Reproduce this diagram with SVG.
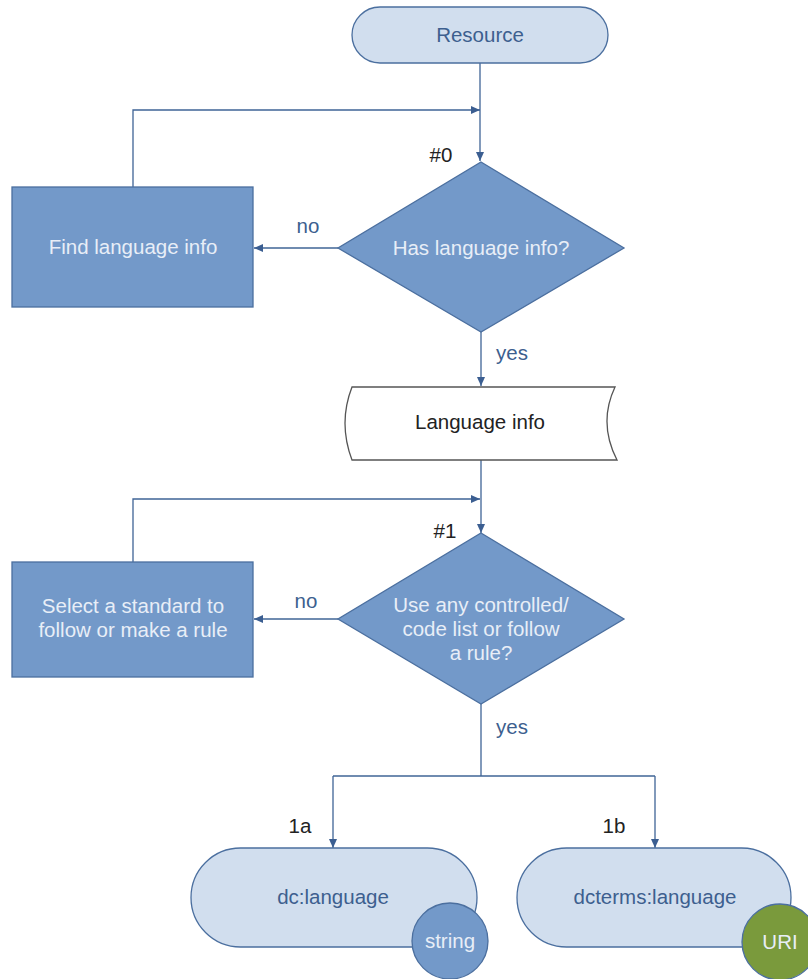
<svg xmlns="http://www.w3.org/2000/svg" width="808" height="979" viewBox="0 0 808 979">
  <defs>
    <marker id="arr" markerUnits="userSpaceOnUse" markerWidth="10" markerHeight="10" refX="9" refY="4" orient="auto">
      <path d="M0,0 L9,4 L0,8 Z" fill="#3b5e91"/>
    </marker>
    <style>
      .conn { fill: none; stroke: #3f6496; stroke-width: 1.3; }
      .pill { fill: #d1deee; stroke: #4b6f9f; stroke-width: 1.3; }
      .proc { fill: #7399c9; stroke: #4b6f9f; stroke-width: 1.3; }
      .data { fill: #ffffff; stroke: #555555; stroke-width: 1.3; }
      .green { fill: #7a9a3c; stroke: #4b6f9f; stroke-width: 1.3; }
      text { font-family: "Liberation Sans", Arial, sans-serif; font-size: 20.5px; text-anchor: middle; }
      .dark { fill: #3d5f8f; }
      .light { fill: #e8eef7; }
      .black { fill: #222222; }
    </style>
  </defs>

  <g id="connectors">
    <path class="conn" d="M480 63 V161" marker-end="url(#arr)"/>
    <path class="conn" d="M133 187 V110 H480" marker-end="url(#arr)"/>
    <path class="conn" d="M338 248 H254" marker-end="url(#arr)"/>
    <path class="conn" d="M481 332 V386" marker-end="url(#arr)"/>
    <path class="conn" d="M481 460 V533" marker-end="url(#arr)"/>
    <path class="conn" d="M133 562 V499 H480" marker-end="url(#arr)"/>
    <path class="conn" d="M338 619 H254" marker-end="url(#arr)"/>
    <path class="conn" d="M481 704 V776"/>
    <path class="conn" d="M333 776 H655"/>
    <path class="conn" d="M333 776 V848" marker-end="url(#arr)"/>
    <path class="conn" d="M655 776 V848" marker-end="url(#arr)"/>
    <text class="dark" x="308" y="233">no</text>
    <text class="dark" x="512" y="360">yes</text>
    <text class="dark" x="306" y="608">no</text>
    <text class="dark" x="512" y="734">yes</text>
  </g>

  <g id="resource">
    <rect class="pill" x="352" y="7" width="256" height="56" rx="28"/>
    <text class="dark" x="480" y="42">Resource</text>
  </g>

  <g id="decision0">
    <polygon class="proc" points="481,162 624,248 481,332 338,248"/>
    <text class="light" x="481" y="255">Has language info?</text>
    <text class="black" x="441" y="162">#0</text>
  </g>

  <g id="find-language-info">
    <rect class="proc" x="12" y="187" width="241" height="120"/>
    <text class="light" x="133" y="254">Find language info</text>
  </g>

  <g id="language-info">
    <path class="data" d="M352 387 H615 Q598 423 617 460 H352 Q338 423 352 387 Z"/>
    <text class="black" x="480" y="429">Language info</text>
  </g>

  <g id="decision1">
    <polygon class="proc" points="481,533 624,619 481,704 338,619"/>
    <text class="light" x="481" y="612">Use any controlled/</text>
    <text class="light" x="481" y="636">code list or follow</text>
    <text class="light" x="481" y="660">a rule?</text>
    <text class="black" x="445" y="538">#1</text>
  </g>

  <g id="select-standard">
    <rect class="proc" x="12" y="562" width="241" height="115"/>
    <text class="light" x="133" y="613">Select a standard to</text>
    <text class="light" x="133" y="637">follow or make a rule</text>
  </g>

  <g id="dc-language">
    <text class="black" x="300" y="833">1a</text>
    <rect class="pill" x="191" y="848" width="286" height="99" rx="49.5"/>
    <text class="dark" x="333" y="904">dc:language</text>
    <circle class="proc" cx="450" cy="941" r="38"/>
    <text class="light" x="450" y="948">string</text>
  </g>

  <g id="dcterms-language">
    <text class="black" x="614" y="833">1b</text>
    <rect class="pill" x="517" y="848" width="274" height="99" rx="49.5"/>
    <text class="dark" x="655" y="904">dcterms:language</text>
    <circle class="green" cx="780" cy="942" r="38"/>
    <text class="light" x="780" y="949">URI</text>
  </g>
</svg>
